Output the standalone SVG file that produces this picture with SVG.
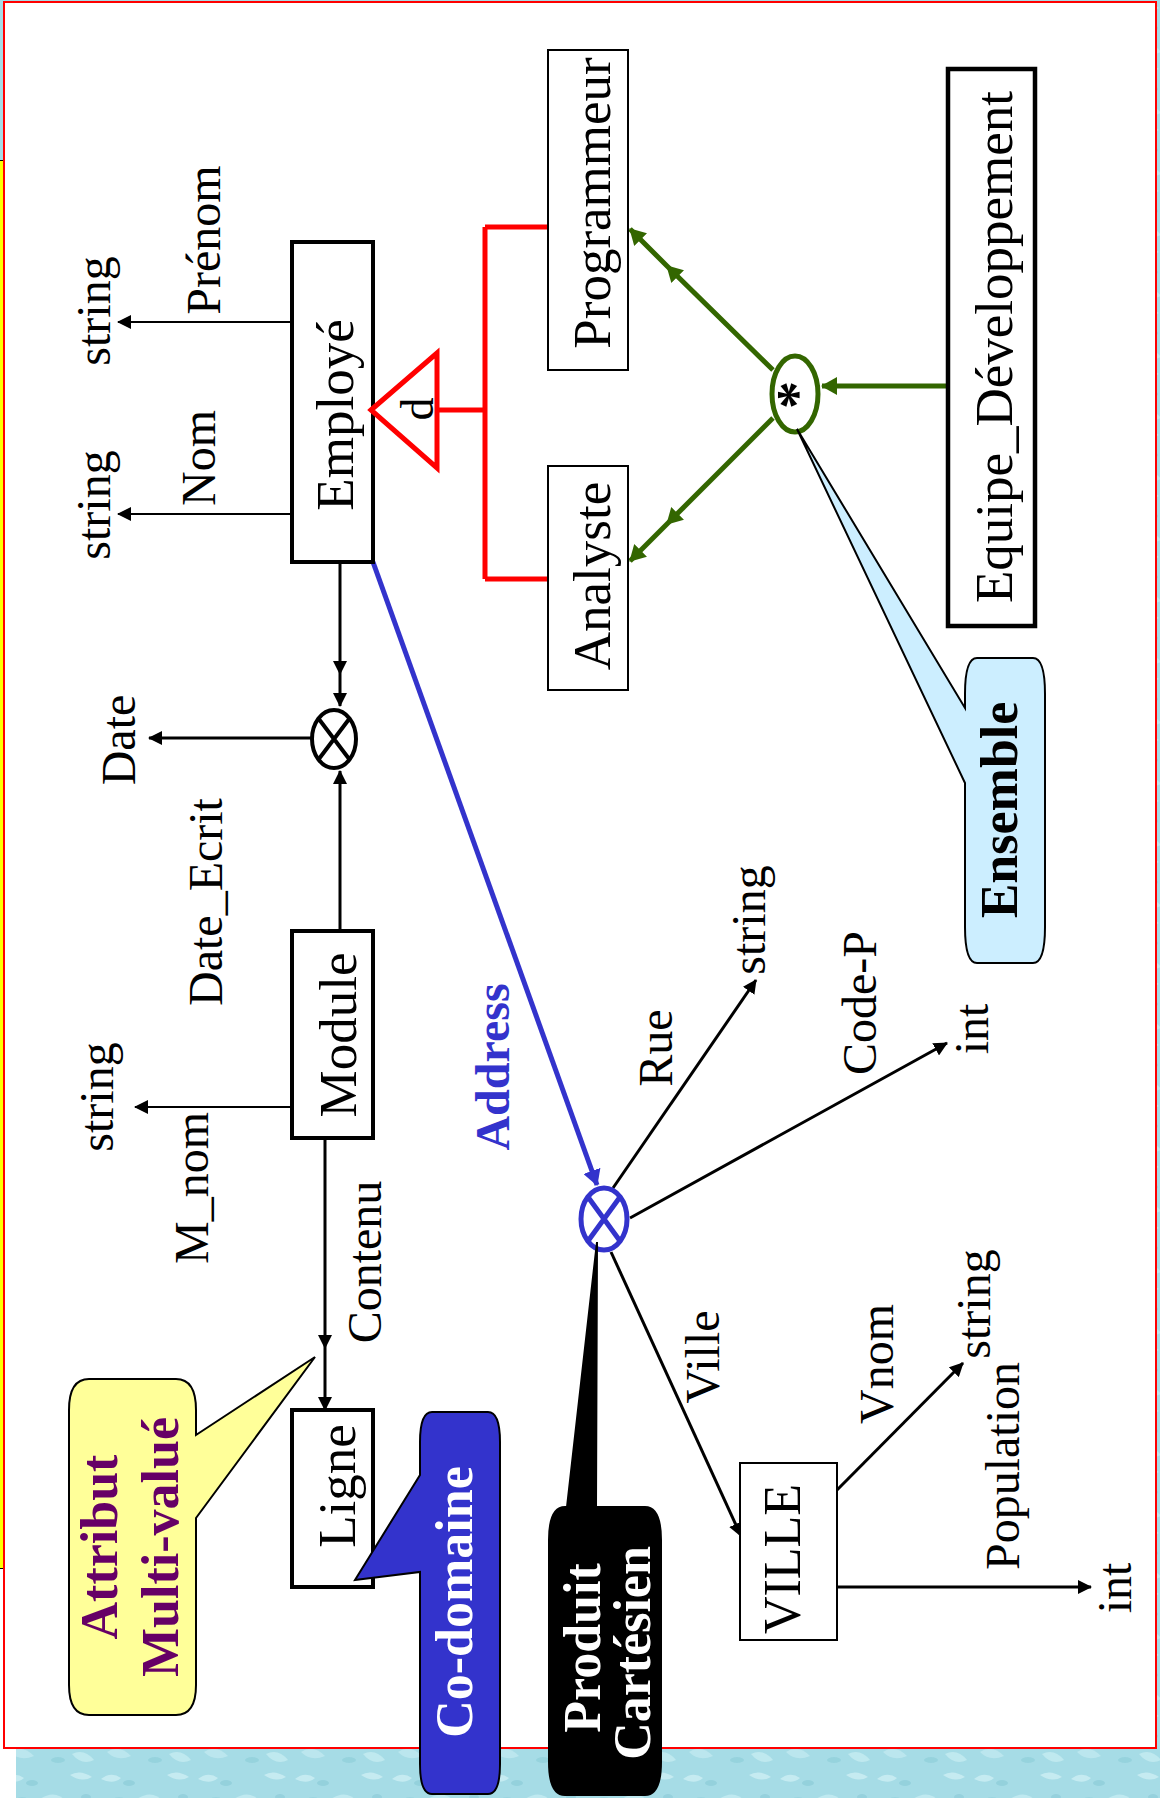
<svg xmlns="http://www.w3.org/2000/svg" width="1160" height="1798" viewBox="0 0 1160 1798">
<defs>
<style>
.n{font-family:"Liberation Serif","Times New Roman",serif;font-size:53px;text-anchor:middle;fill:#000}
.l{font-family:"Liberation Serif","Times New Roman",serif;font-size:48px;text-anchor:middle;fill:#000}
.b{font-family:"Liberation Serif","Times New Roman",serif;font-size:52px;font-weight:bold;text-anchor:middle}
.box{fill:#fff;stroke:#000}
.thick{stroke-width:4}
.thin{stroke-width:2}
.c{fill:none;stroke:#000}
.cg{fill:none;stroke:#336600;stroke-width:5}
.cr{fill:none;stroke:#ff0000;stroke-width:5}
</style>
<marker id="ah" viewBox="0 0 14 14" refX="13" refY="7" markerWidth="14" markerHeight="14" markerUnits="userSpaceOnUse" orient="auto"><path d="M0,0 L14,7 L0,14 z" fill="#000"/></marker>
<marker id="ahg" viewBox="0 0 16 18" refX="15" refY="9" markerWidth="16" markerHeight="18" markerUnits="userSpaceOnUse" orient="auto"><path d="M0,0 L16,9 L0,18 z" fill="#336600"/></marker>
<marker id="ahb" viewBox="0 0 16 18" refX="15" refY="9" markerWidth="16" markerHeight="18" markerUnits="userSpaceOnUse" orient="auto"><path d="M0,0 L16,9 L0,18 z" fill="#3333cc"/></marker>
<pattern id="tex" width="97" height="61" patternUnits="userSpaceOnUse">
<rect width="97" height="61" fill="#a6dce6"/>
<path d="M4,10 Q14,2 24,9 Q16,16 4,10 Z" fill="#cdeff4" opacity=".8"/>
<path d="M40,30 Q55,20 66,32 Q52,38 40,30 Z" fill="#c6ecf2" opacity=".8"/>
<path d="M70,6 Q80,0 92,8 Q82,14 70,6 Z" fill="#d3f2f6" opacity=".7"/>
<path d="M10,44 Q22,36 34,48 Q20,54 10,44 Z" fill="#c0e9f0" opacity=".8"/>
<path d="M72,46 Q84,40 94,52 Q82,58 72,46 Z" fill="#cbeef3" opacity=".7"/>
<ellipse cx="32" cy="14" rx="6" ry="3" fill="#7fc3d1" opacity=".45"/>
<ellipse cx="58" cy="52" rx="7" ry="3" fill="#84c7d4" opacity=".45"/>
<ellipse cx="86" cy="28" rx="5" ry="3" fill="#7cc1cf" opacity=".4"/>
<ellipse cx="22" cy="30" rx="5" ry="2" fill="#8acbd7" opacity=".4"/>
</pattern>
</defs>

<g id="background">
<rect x="0" y="0" width="1160" height="1798" fill="url(#tex)"/>
<rect x="0" y="160" width="4" height="1409" fill="#ffff00"/>
<rect x="0" y="1569" width="4" height="178" fill="#fff"/>
<rect x="0" y="1747" width="16" height="51" fill="#fff"/>
<path d="M0,160.5 H4 M3.5,160 V1569 M0,1568.5 H4" stroke="#000" stroke-width="1" fill="none"/>
<rect x="4" y="2" width="1152" height="1746" fill="#fff" stroke="#ff0000" stroke-width="2"/>
</g>

<g id="connectors">
<path class="c thin" d="M292,322 H118" marker-end="url(#ah)"/>
<path class="c thin" d="M292,514 H118" marker-end="url(#ah)"/>
<path class="c" stroke-width="3" d="M340,562 V674 V706" marker-mid="url(#ah)" marker-end="url(#ah)"/>
<path class="c" stroke-width="3" d="M340,931 V771" marker-end="url(#ah)"/>
<path class="c" stroke-width="3" d="M311,738 H149" marker-end="url(#ah)"/>
<path class="c thin" d="M292,1107 H135" marker-end="url(#ah)"/>
<path class="c" stroke-width="3" d="M325,1138 V1348 V1410" marker-mid="url(#ah)" marker-end="url(#ah)"/>
<path d="M373,562 L597,1185" fill="none" stroke="#3333cc" stroke-width="5" marker-end="url(#ahb)"/>
<path class="c" stroke-width="3" d="M613,1188 L756,980" marker-end="url(#ah)"/>
<path class="c" stroke-width="3" d="M630,1218 L947,1043" marker-end="url(#ah)"/>
<path class="c" stroke-width="3" d="M611,1252 L741,1536" marker-end="url(#ah)"/>
<path class="c" stroke-width="3" d="M837,1490 L963,1363" marker-end="url(#ah)"/>
<path class="c" stroke-width="3" d="M837,1587 H1091" marker-end="url(#ah)"/>
<path class="cr" d="M437,410 H485 M485,227 V579 M485,227 H548 M485,579 H548"/>
<path class="cg" d="M773,370 L667,266 L630,229" marker-mid="url(#ahg)" marker-end="url(#ahg)"/>
<path class="cg" d="M773,418 L667,524 L630,561" marker-mid="url(#ahg)" marker-end="url(#ahg)"/>
<path class="cg" d="M948,386 H822" marker-end="url(#ahg)"/>
</g>

<g id="labels">
<text class="l" transform="translate(110,311) rotate(-90)">string</text>
<text class="l" transform="translate(220,240) rotate(-90)">Prénom</text>
<text class="l" transform="translate(110,505) rotate(-90)">string</text>
<text class="l" transform="translate(215,458) rotate(-90)">Nom</text>
<text class="l" transform="translate(135,740) rotate(-90)">Date</text>
<text class="l" transform="translate(222,902) rotate(-90)">Date_Ecrit</text>
<text class="l" transform="translate(113,1097) rotate(-90)">string</text>
<text class="l" transform="translate(208,1188) rotate(-90)">M_nom</text>
<text class="l" transform="translate(381,1262) rotate(-90)">Contenu</text>
<text class="l" transform="translate(672,1048) rotate(-90)">Rue</text>
<text class="l" transform="translate(765,920) rotate(-90)">string</text>
<text class="l" transform="translate(876,1003) rotate(-90)">Code-P</text>
<text class="l" transform="translate(988,1029) rotate(-90)">int</text>
<text class="l" transform="translate(719,1357) rotate(-90)">Ville</text>
<text class="l" transform="translate(893,1364) rotate(-90)">Vnom</text>
<text class="l" transform="translate(990,1304) rotate(-90)">string</text>
<text class="l" transform="translate(1019,1466) rotate(-90)">Population</text>
<text class="l" transform="translate(1131,1588) rotate(-90)">int</text>
<text class="l" transform="translate(509,1067) rotate(-90)" style="font-weight:bold;fill:#3333cc">Address</text>
</g>

<g id="employe">
<rect class="box thick" x="292" y="242" width="81" height="320"/>
<text class="n" transform="translate(353,415) rotate(-90)">Employé</text>
</g>
<g id="isa-d">
<path d="M371,410 L437,353 L437,468 Z" fill="#fff" stroke="#ff0000" stroke-width="5"/>
<text class="l" style="font-size:46px" transform="translate(433,409) rotate(-90)">d</text>
</g>
<g id="programmeur">
<rect class="box thin" x="548" y="50" width="80" height="320"/>
<text class="n" transform="translate(610,203) rotate(-90)">Programmeur</text>
</g>
<g id="analyste">
<rect class="box thin" x="548" y="466" width="80" height="224"/>
<text class="n" transform="translate(610,576) rotate(-90)">Analyste</text>
</g>
<g id="equipe">
<rect class="box" stroke-width="4.5" x="948" y="69" width="87" height="557"/>
<text class="n" transform="translate(1012,347) rotate(-90)">Equipe_Développement</text>
</g>
<g id="ensemble-op">
<ellipse cx="795" cy="394" rx="23" ry="38" fill="#fff" stroke="#336600" stroke-width="5"/>
<text class="b" style="fill:#000;font-size:56px" transform="translate(816,395) rotate(-90)">*</text>
</g>
<g id="produit-date">
<ellipse cx="334" cy="739" rx="22" ry="29" fill="#fff" stroke="#000" stroke-width="4"/>
<path d="M318.5,718.5 L349.5,759.5 M349.5,718.5 L318.5,759.5" stroke="#000" stroke-width="4"/>
</g>
<g id="module">
<rect class="box thick" x="292" y="931" width="81" height="207"/>
<text class="n" transform="translate(356,1035) rotate(-90)">Module</text>
</g>
<g id="ligne">
<rect class="box thick" x="292" y="1410" width="81" height="177"/>
<text class="n" transform="translate(355,1486) rotate(-90)">Ligne</text>
</g>
<g id="produit-adresse">
<ellipse cx="604" cy="1219" rx="23" ry="31" fill="#fff" stroke="#3333cc" stroke-width="5"/>
<path d="M588,1197 L620,1241 M620,1197 L588,1241" stroke="#3333cc" stroke-width="5"/>
</g>
<g id="ville">
<rect class="box thin" x="740" y="1463" width="97" height="177"/>
<text class="n" style="font-size:52px" transform="translate(800,1559) rotate(-90)">VILLE</text>
</g>

<g id="callout-ensemble">
<path d="M977,658 H1033 Q1045,658 1045,694 V927 Q1045,963 1033,963 H977 Q965,963 965,927 V783 L797,429 L965,708 V694 Q965,658 977,658 Z" fill="#cceeff" stroke="#000" stroke-width="2"/>
<text class="b" style="fill:#000" transform="translate(1017,810) rotate(-90)">Ensemble</text>
</g>
<g id="callout-attribut">
<path d="M89,1379 H176 Q196,1379 196,1410 V1435 L315,1357 L196,1518 V1685 Q196,1715 176,1715 H89 Q69,1715 69,1685 V1410 Q69,1379 89,1379 Z" fill="#ffff99" stroke="#000" stroke-width="2"/>
<text class="b" style="fill:#660066" transform="translate(117,1547) rotate(-90)">Attribut</text>
<text class="b" style="fill:#660066" transform="translate(178,1547) rotate(-90)">Multi-valué</text>
</g>
<g id="callout-codomaine">
<path d="M432,1412 H488 Q500,1412 500,1442 V1764 Q500,1794 488,1794 H432 Q420,1794 420,1764 V1572 L355,1580 L420,1475 V1442 Q420,1412 432,1412 Z" fill="#3333cc" stroke="#000" stroke-width="2"/>
<text class="b" style="fill:#fff" transform="translate(472,1602) rotate(-90)">Co-domaine</text>
</g>
<g id="callout-produit">
<path d="M565,1507 H567 L597,1242 L596,1507 H645 Q661,1507 661,1540 V1762 Q661,1795 645,1795 H565 Q549,1795 549,1762 V1540 Q549,1507 565,1507 Z" fill="#000" stroke="#000" stroke-width="2"/>
<text class="b" style="fill:#fff" transform="translate(600,1648) rotate(-90)">Produit</text>
<text class="b" style="fill:#fff" transform="translate(650,1653) rotate(-90)">Cartésien</text>
</g>
</svg>
